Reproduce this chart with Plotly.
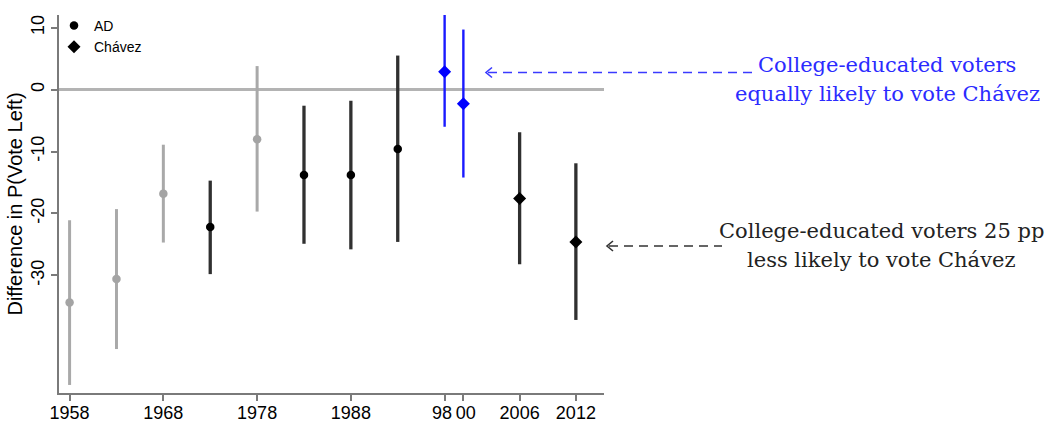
import plotly.graph_objects as go

# ---------------- data ----------------
years = [1958, 1963, 1968, 1973, 1978, 1983, 1988, 1993, 1998, 2000, 2006, 2012]
estimate = [-34.4, -30.6, -16.8, -22.2, -8.0, -13.8, -13.8, -9.6, 2.9, -2.3, -17.6, -24.6]
ci_high = [-21.1, -19.3, -8.9, -14.7, 3.8, -2.6, -1.8, 5.5, 12.1, 9.7, -6.9, -11.9]
ci_low = [-47.7, -41.9, -24.7, -29.8, -19.7, -24.9, -25.8, -24.6, -6.0, -14.2, -28.2, -37.2]
party = ["AD"] * 8 + ["Chávez"] * 4
shade = ["gray", "gray", "gray", "black", "gray", "black", "black", "black",
         "blue", "blue", "black", "black"]

x_tickvals = [1958, 1968, 1978, 1988, 1998, 2000, 2006, 2012]
x_ticktext = ["1958", "1968", "1978", "1988", "98\u00a0", "\u00a000", "2006", "2012"]
y_tickvals = [-30, -20, -10, 0, 10]
y_ticktext = ["-30", "-20", "-10", "0", "10"]

note_blue = ["College-educated voters", "equally likely to vote Chávez"]
note_black = ["College-educated voters 25 pp", "less likely to vote Chávez"]

# ---------------- styles ----------------
W, H = 1050, 423
L, R, T, B = 59, 446, 15, 30
marker_col = {"gray": "#a4a4a4", "black": "#000000", "blue": "#0000ff"}
bar_col = {"gray": "#a9a9a9", "black": "#303030", "blue": "#1a1aff"}
bar_w = {"gray": 3, "black": 3.3, "blue": 2.4}
symbol = {"AD": "circle", "Chávez": "diamond"}
msize = {"AD": 8.5, "Chávez": 10}

def px(x):
    return (x - L) / (W - L - R)

def py(y):
    return (H - B - y) / (H - T - B)

fig = go.Figure()

groups = []
for p, s in zip(party, shade):
    if (p, s) not in groups:
        groups.append((p, s))

for p, s in groups:
    idx = [i for i in range(len(years)) if party[i] == p and shade[i] == s]
    xs = [years[i] for i in idx]
    ys = [estimate[i] for i in idx]
    up = [ci_high[i] - estimate[i] for i in idx]
    dn = [estimate[i] - ci_low[i] for i in idx]
    fig.add_trace(go.Scatter(
        x=xs, y=ys, mode="markers", showlegend=False,
        marker=dict(symbol=symbol[p], size=msize[p], color=marker_col[s]),
        error_y=dict(type="data", symmetric=False, array=up, arrayminus=dn,
                     width=0, thickness=bar_w[s], color=bar_col[s]),
        cliponaxis=False,
    ))

# legend entries
for p in ["AD", "Chávez"]:
    fig.add_trace(go.Scatter(
        x=[None], y=[None], mode="markers", name=p,
        marker=dict(symbol=symbol[p], size=msize[p], color="black"),
    ))

# ---------------- annotations ----------------
serif = dict(family="DejaVu Serif", size=21)
for txt, yy in zip(note_blue, [65, 94]):
    fig.add_annotation(xref="paper", yref="paper", x=px(887), y=py(yy),
                       text=txt, showarrow=False, xanchor="center", yanchor="middle",
                       font=dict(color="#2b2bff", **serif))
for txt, yy in zip(note_black, [231, 260]):
    fig.add_annotation(xref="paper", yref="paper", x=px(881), y=py(yy),
                       text=txt, showarrow=False, xanchor="center", yanchor="middle",
                       font=dict(color="#222222", **serif))

# dashed arrows
arrows = [
    dict(x0=486, x1=757, y=72.5, color="#3a3aff"),
    dict(x0=607, x1=722, y=246, color="#333333"),
]
for a in arrows:
    fig.add_shape(type="line", xref="paper", yref="paper",
                  x0=px(a["x0"] + 2), x1=px(a["x1"]), y0=py(a["y"]), y1=py(a["y"]),
                  line=dict(color=a["color"], width=1.6, dash="9px,6px"))
    fig.add_shape(type="path", xref="paper", yref="paper",
                  path="M {},{} L {},{} L {},{}".format(
                      px(a["x0"] + 6), py(a["y"] - 5),
                      px(a["x0"]), py(a["y"]),
                      px(a["x0"] + 6), py(a["y"] + 5)),
                  line=dict(color=a["color"], width=1.6))

axis_col = "#7a7a7a"
fig.update_layout(
    width=W, height=H,
    margin=dict(l=L, r=R, t=T, b=B, autoexpand=False),
    paper_bgcolor="white", plot_bgcolor="white",
    font=dict(family="Liberation Sans", color="black"),
    showlegend=True,
    legend=dict(x=px(54), y=py(10), xanchor="left", yanchor="top",
                bgcolor="rgba(0,0,0,0)", font=dict(size=14),
                itemwidth=30, tracegroupgap=0),
    xaxis=dict(range=[1956.87, 2015.0], tickmode="array", tickvals=x_tickvals,
               ticktext=x_ticktext, tickangle=0, showgrid=False, zeroline=False,
               showline=True, linecolor=axis_col, linewidth=1.5,
               ticks="outside", ticklen=6, tickcolor=axis_col, tickwidth=1.5,
               tickfont=dict(size=18), ticklabelstandoff=-3, automargin=False),
    yaxis=dict(range=[-49.0, 12.05], tickmode="array", tickvals=y_tickvals,
               ticktext=y_ticktext, tickangle=-90, showgrid=False,
               zeroline=True, zerolinecolor="#b3b3b3", zerolinewidth=3,
               showline=True, linecolor=axis_col, linewidth=1.5,
               ticks="outside", ticklen=6, tickcolor=axis_col, tickwidth=1.5,
               tickfont=dict(size=18), ticklabelstandoff=0,
               title=dict(text="Difference in P(Vote Left)", font=dict(size=20),
                          standoff=0),
               automargin=False),
)

# remove the browser's default 8px page margin so the figure sits at (0, 0)
fig.write_html("out.html",
               config={"displayModeBar": False},
               post_script="document.body.style.margin='0';document.body.style.overflow='hidden';")
